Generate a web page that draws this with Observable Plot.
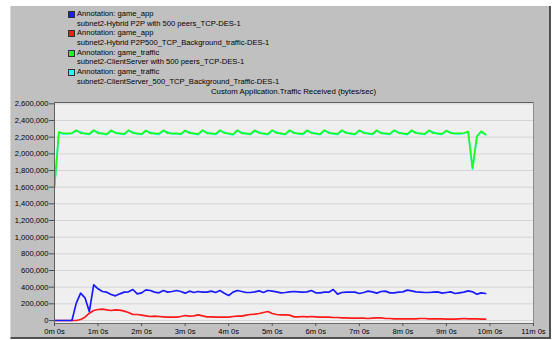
<!DOCTYPE html>
<html>
<head>
<meta charset="utf-8">
<script src="https://cdn.jsdelivr.net/npm/d3@7"></script>
<script src="https://cdn.jsdelivr.net/npm/@observablehq/plot@0.6"></script>
<style>
  html, body { margin: 0; padding: 0; background: #ffffff; }
  #wrap { position: relative; width: 552px; height: 340px; overflow: hidden; font-family: "Liberation Sans", Arial, sans-serif; }
  #panel { position: absolute; left: 10px; top: 6px; width: 538px; height: 331px; background: #c0c0c0;
           border-left: 1px solid #d8d8d8; border-right: 2px solid #505050; border-bottom: 2px solid #505050; }
  #chart { position: absolute; left: 0; top: 0; }
  #chart svg { overflow: visible; }
  .leg { position: absolute; left: 68px; top: 9px; font-size: 7.6px; line-height: 9.7px; color: #000; white-space: nowrap; }
  .row { position: relative; padding-left: 9px; height: 9.7px; }
  .sw { position: absolute; left: 0; top: 1.8px; width: 5px; height: 5px; border: 1px solid #303030; }
  #title { position: absolute; left: 54px; width: 479px; top: 87px; text-align: center; font-size: 7.8px; color: #000; white-space: nowrap; }
</style>
</head>
<body>
<div id="wrap">
  <div id="panel"></div>
  <div id="chart"></div>
  <div class="leg" id="legend"></div>
  <div id="title"></div>
</div>
<script>
const chartTitle = "Custom Application.Traffic Received (bytes/sec)";

const seriesNames = [
  ["Annotation: game_app", "subnet2-Hybrid P2P with 500 peers_TCP-DES-1"],
  ["Annotation: game_app", "subnet2-Hybrid P2P500_TCP_Background_traffic-DES-1"],
  ["Annotation: game_traffic", "subnet2-ClientServer with 500 peers_TCP-DES-1"],
  ["Annotation: game_traffic", "subnet2-ClientServer_500_TCP_Background_Traffic-DES-1"]
];
const seriesColors = ["#1a1aff", "#ff1a1a", "#1aff1a", "#1affff"];

const yTicks = [0, 200000, 400000, 600000, 800000, 1000000, 1200000, 1400000, 1600000, 1800000, 2000000, 2200000, 2400000, 2600000];
const xTicks = [0, 1, 2, 3, 4, 5, 6, 7, 8, 9, 10, 11];
const xTickLabels = ["0m 0s", "1m 0s", "2m 0s", "3m 0s", "4m 0s", "5m 0s", "6m 0s", "7m 0s", "8m 0s", "9m 0s", "10m 0s", "11m 0s"];

// time in minutes
const times = [
  0.0, 0.1, 0.2, 0.3, 0.4, 0.5, 0.6, 0.7, 0.8, 0.9,
  1.0, 1.1, 1.2, 1.3, 1.4, 1.5, 1.6, 1.7, 1.8, 1.9,
  2.0, 2.1, 2.2, 2.3, 2.4, 2.5, 2.6, 2.7, 2.8, 2.9,
  3.0, 3.1, 3.2, 3.3, 3.4, 3.5, 3.6, 3.7, 3.8, 3.9,
  4.0, 4.1, 4.2, 4.3, 4.4, 4.5, 4.6, 4.7, 4.8, 4.9,
  5.0, 5.1, 5.2, 5.3, 5.4, 5.5, 5.6, 5.7, 5.8, 5.9,
  6.0, 6.1, 6.2, 6.3, 6.4, 6.5, 6.6, 6.7, 6.8, 6.9,
  7.0, 7.1, 7.2, 7.3, 7.4, 7.5, 7.6, 7.7, 7.8, 7.9,
  8.0, 8.1, 8.2, 8.3, 8.4, 8.5, 8.6, 8.7, 8.8, 8.9,
  9.0, 9.1, 9.2, 9.3, 9.4, 9.5, 9.6, 9.7, 9.8, 9.9
];

const blueP2P = [
  0, 0, 0, 0, 0, 208000, 328000, 272000, 108000, 428000,
  380000, 348000, 340000, 312000, 296000, 320000, 340000, 344000, 372000, 320000,
  332000, 368000, 360000, 340000, 332000, 360000, 340000, 348000, 360000, 348000,
  328000, 352000, 336000, 348000, 340000, 340000, 352000, 336000, 360000, 328000,
  300000, 340000, 360000, 348000, 336000, 336000, 344000, 356000, 336000, 360000,
  352000, 344000, 332000, 336000, 344000, 348000, 344000, 340000, 344000, 360000,
  332000, 332000, 340000, 340000, 372000, 316000, 336000, 340000, 340000, 340000,
  324000, 336000, 352000, 344000, 328000, 348000, 352000, 332000, 332000, 340000,
  344000, 364000, 356000, 344000, 340000, 336000, 336000, 340000, 344000, 328000,
  336000, 344000, 324000, 332000, 340000, 356000, 344000, 316000, 332000, 324000
];

const redP2PBg = [
  0, 0, 0, 0, 0, 0, 12000, 40000, 88000, 120000,
  132000, 136000, 128000, 120000, 128000, 124000, 112000, 96000, 72000, 72000,
  64000, 56000, 48000, 52000, 48000, 44000, 40000, 40000, 40000, 48000,
  60000, 52000, 56000, 68000, 56000, 44000, 44000, 40000, 40000, 40000,
  40000, 48000, 52000, 52000, 64000, 72000, 76000, 84000, 96000, 108000,
  84000, 72000, 68000, 68000, 64000, 44000, 44000, 48000, 44000, 48000,
  44000, 40000, 40000, 40000, 36000, 36000, 32000, 32000, 28000, 28000,
  28000, 28000, 24000, 28000, 32000, 32000, 24000, 24000, 20000, 20000,
  20000, 20000, 20000, 20000, 24000, 24000, 20000, 20000, 20000, 20000,
  16000, 16000, 16000, 20000, 24000, 20000, 20000, 20000, 16000, 16000
];

const greenCS = [
  1600000, 2262000, 2245000, 2245000, 2248000, 2285000, 2248000, 2245000, 2240000, 2285000,
  2246000, 2245000, 2236000, 2283000, 2248000, 2246000, 2240000, 2285000, 2248000, 2245000,
  2238000, 2280000, 2246000, 2245000, 2242000, 2282000, 2248000, 2246000, 2245000, 2240000,
  2280000, 2248000, 2245000, 2236000, 2285000, 2246000, 2245000, 2240000, 2284000, 2248000,
  2246000, 2235000, 2285000, 2246000, 2245000, 2240000, 2283000, 2248000, 2245000, 2238000,
  2284000, 2248000, 2246000, 2236000, 2285000, 2247000, 2245000, 2240000, 2283000, 2248000,
  2246000, 2238000, 2285000, 2248000, 2245000, 2240000, 2284000, 2247000, 2245000, 2236000,
  2285000, 2248000, 2246000, 2238000, 2283000, 2246000, 2245000, 2240000, 2284000, 2248000,
  2246000, 2236000, 2283000, 2247000, 2245000, 2240000, 2282000, 2248000, 2246000, 2240000,
  2280000, 2248000, 2246000, 2245000, 2250000, 2268000, 1827000, 2211000, 2271000, 2232000
];

const cyanCSBg = [
  1600000, 2255000, 2240000, 2238000, 2244000, 2276000, 2262000, 2240000, 2232000, 2275000,
  2260000, 2238000, 2230000, 2274000, 2258000, 2240000, 2232000, 2276000, 2260000, 2238000,
  2232000, 2272000, 2258000, 2240000, 2234000, 2274000, 2260000, 2240000, 2238000, 2232000,
  2272000, 2262000, 2238000, 2230000, 2276000, 2258000, 2240000, 2232000, 2274000, 2260000,
  2238000, 2228000, 2276000, 2258000, 2240000, 2232000, 2274000, 2262000, 2238000, 2230000,
  2274000, 2260000, 2240000, 2230000, 2276000, 2258000, 2238000, 2232000, 2274000, 2262000,
  2240000, 2230000, 2276000, 2260000, 2238000, 2232000, 2275000, 2258000, 2240000, 2230000,
  2276000, 2260000, 2240000, 2232000, 2274000, 2258000, 2238000, 2232000, 2275000, 2262000,
  2240000, 2230000, 2274000, 2258000, 2238000, 2232000, 2272000, 2260000, 2240000, 2234000,
  2272000, 2258000, 2240000, 2238000, 2244000, 2262000, 1815000, 2205000, 2262000, 2228000
];

const seriesValues = [blueP2P, redP2PBg, greenCS, cyanCSBg];

// legend
const legend = document.getElementById("legend");
seriesNames.forEach((pair, i) => {
  const r1 = document.createElement("div");
  r1.className = "row";
  const sw = document.createElement("span");
  sw.className = "sw";
  sw.style.background = seriesColors[i];
  r1.appendChild(sw);
  r1.appendChild(document.createTextNode(pair[0]));
  const r2 = document.createElement("div");
  r2.className = "row";
  r2.textContent = pair[1];
  legend.appendChild(r1);
  legend.appendChild(r2);
});
document.getElementById("title").textContent = chartTitle;

const rows = (vals, k) => vals.map((v, j) => ({t: times[j], v, k}));
const drawOrder = [3, 2, 1, 0];

const plot = Plot.plot({
  width: 552,
  height: 340,
  marginLeft: 54,
  marginRight: 19,
  marginTop: 102,
  marginBottom: 17,
  style: {background: "transparent", fontFamily: "'Liberation Sans', Arial, sans-serif", fontSize: "7.6px", color: "#000"},
  x: {domain: [0, 11], label: null},
  y: {domain: [-36000, 2616000], label: null},
  marks: [
    Plot.frame({fill: "#efefef", stroke: null}),
    Plot.ruleY(yTicks, {stroke: "#d4d4d4", strokeWidth: 1}),
    ...drawOrder.map(k => Plot.line(rows(seriesValues[k], k), {x: "t", y: "v", stroke: seriesColors[k], strokeWidth: 1.7})),
    Plot.frame({anchor: "top", stroke: "#606060"}),
    Plot.frame({anchor: "left", stroke: "#606060"}),
    Plot.frame({anchor: "right", stroke: "#8c8c8c"}),
    Plot.frame({anchor: "bottom", stroke: "#6a6a6a"}),
    Plot.axisY(yTicks, {label: null, tickFormat: d3.format(","), tickSize: 5, tickPadding: 1, stroke: "#505050", fill: "#000", fontSize: 7.6}),
    Plot.axisX(xTicks, {label: null, tickFormat: (d, i) => xTickLabels[i], tickSize: 3, tickPadding: 2, stroke: "#505050", fill: "#000", fontSize: 7.6})
  ]
});
document.getElementById("chart").appendChild(plot);
</script>
</body>
</html>
